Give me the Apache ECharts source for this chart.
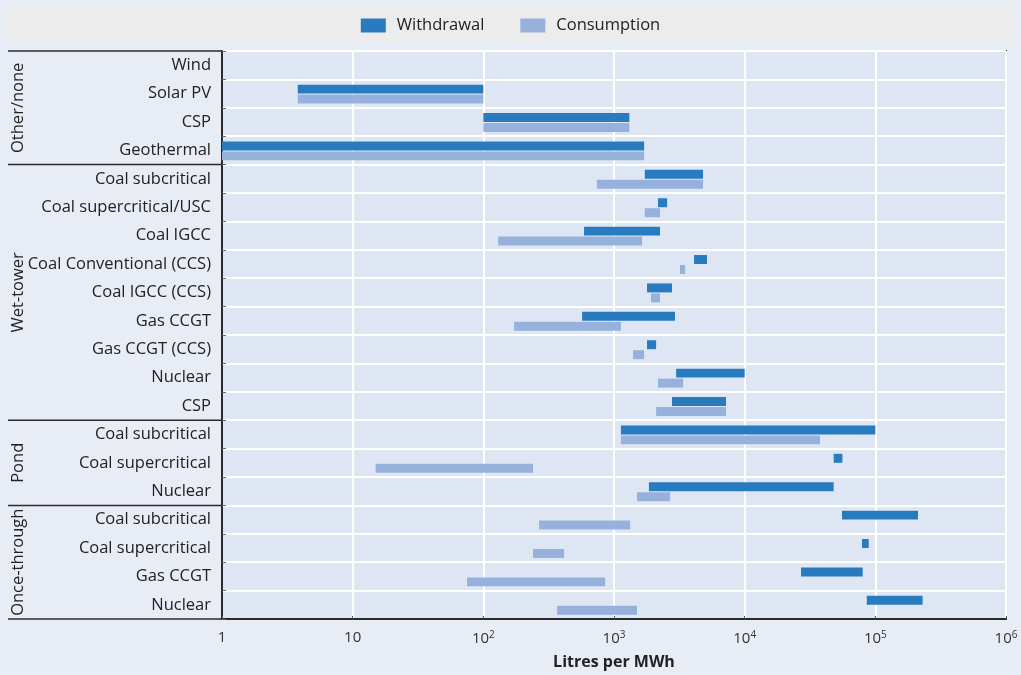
<!DOCTYPE html>
<html>
<head>
<meta charset="utf-8">
<script src="https://cdn.jsdelivr.net/npm/echarts@6/dist/echarts.min.js"></script>
<style>
  html, body { margin: 0; padding: 0; background: #e8ecf5; }
  #chart { width: 1021px; height: 675px; }
</style>
</head>
<body>
<div id="chart"></div>
<script>
// Technologies, top to bottom
const categories = [
  'Wind', 'Solar PV', 'CSP', 'Geothermal',
  'Coal subcritical', 'Coal supercritical/USC', 'Coal IGCC', 'Coal Conventional (CCS)',
  'Coal IGCC (CCS)', 'Gas CCGT', 'Gas CCGT (CCS)', 'Nuclear', 'CSP',
  'Coal subcritical', 'Coal supercritical', 'Nuclear',
  'Coal subcritical', 'Coal supercritical', 'Gas CCGT', 'Nuclear'
];

// Cooling-system groups: first and last row index of each
const groupNames = ['Other/none', 'Wet-tower', 'Pond', 'Once-through'];
const groupFirst = [0, 4, 13, 16];
const groupLast  = [3, 12, 15, 19];

// Water withdrawal range per technology, litres per MWh [low, high]
const withdrawal = [
  null, [3.8, 100], [100, 1310], [1, 1700],
  [1720, 4800], [2170, 2550], [590, 2250], [4100, 5150],
  [1790, 2780], [570, 2930], [1790, 2100], [2990, 10000], [2780, 7200],
  [1130, 100000], [48000, 56000], [1850, 48000],
  [55600, 212000], [79000, 89000], [27000, 80000], [86000, 230000]
];

// Water consumption range per technology, litres per MWh [low, high]
const consumption = [
  null, [3.8, 100], [100, 1310], [1, 1700],
  [740, 4800], [1720, 2250], [130, 1640], [3200, 3500],
  [1920, 2250], [172, 1130], [1400, 1700], [2170, 3380], [2100, 7200],
  [1130, 37700], [15, 240], [1500, 2690],
  [267, 1330], [240, 415], [75, 855], [367, 1500]
];

const FONT = '"Open Sans", "Noto Sans", sans-serif';
const LABEL_SIZE = 16.5;
const COLOR_W = '#287bbf';
const COLOR_C = '#96b2dc';

const chart = echarts.init(document.getElementById('chart'));

// Floating horizontal bar drawn between low and high on the log axis
function rangeSeries(name, ranges, color, offset) {
  const data = [];
  ranges.forEach((r, i) => { if (r) data.push([r[0], r[1], i]); });
  return {
    type: 'custom',
    name: name,
    itemStyle: { color: color },
    encode: { x: [0, 1], y: 2 },
    data: data,
    renderItem: function (params, api) {
      const row = api.value(2);
      const p0 = api.coord([api.value(0), row]);
      const p1 = api.coord([api.value(1), row]);
      const band = params.coordSys.height / categories.length;
      const h = band * 0.316;
      return {
        type: 'rect',
        shape: { x: p0[0], y: p0[1] + band * offset, width: p1[0] - p0[0], height: h },
        style: { fill: color }
      };
    }
  };
}

function xLabel(v) {
  const e = Math.round(Math.log10(v));
  if (e === 0) return '1';
  if (e === 1) return '10';
  return '10{sup|' + e + '}';
}

chart.setOption({
  backgroundColor: '#e8ecf5',
  textStyle: { fontFamily: FONT },
  legend: {
    top: 12,
    left: 'center',
    itemWidth: 25,
    itemHeight: 14,
    itemGap: 36,
    icon: 'rect',
    textStyle: { fontSize: LABEL_SIZE, color: '#222', fontFamily: FONT, padding: [0, 0, 0, 6] },
    data: ['Withdrawal', 'Consumption']
  },
  grid: {
    left: 222, right: 15, top: 51, bottom: 52,
    show: true,
    backgroundColor: '#dfe6f3',
    borderColor: '#2a2a2a',
    borderWidth: 2
  },
  xAxis: {
    type: 'log',
    logBase: 10,
    min: 1,
    max: 1000000,
    name: 'Litres per MWh',
    nameLocation: 'middle',
    nameGap: 35,
    nameTextStyle: { fontSize: 16, fontWeight: 'bold', color: '#222', fontFamily: FONT },
    axisLine: { show: true, lineStyle: { color: '#2a2a2a', width: 2 } },
    axisTick: { show: true, inside: true, length: 3, lineStyle: { color: '#555' } },
    splitLine: { show: true, lineStyle: { color: '#ffffff', width: 2 } },
    axisLabel: {
      fontSize: 15, color: '#333', margin: 11, fontFamily: FONT,
      formatter: xLabel,
      rich: { sup: { fontSize: 10, color: '#333', padding: [0, 0, 7, 0], fontFamily: FONT } }
    }
  },
  yAxis: {
    type: 'category',
    inverse: true,
    data: categories,
    axisLine: { show: true, lineStyle: { color: '#2a2a2a', width: 2 } },
    axisTick: { show: true, inside: true, length: 4, lineStyle: { color: '#666' } },
    splitLine: { show: true, lineStyle: { color: '#ffffff', width: 2 } },
    axisLabel: { fontSize: LABEL_SIZE, color: '#222', margin: 11, fontFamily: FONT }
  },
  series: [
    rangeSeries('Withdrawal', withdrawal, COLOR_W, -0.316),
    rangeSeries('Consumption', consumption, COLOR_C, 0.035)
  ]
});

// Group labels and separators at the left, placed from the category scale
function drawGroups() {
  const grid = chart.getModel().getComponent('grid').coordinateSystem.getRect();
  const band = grid.height / categories.length;
  const elements = [{
    type: 'rect', z: -1, silent: true,
    shape: { x: 7, y: 8, width: 1007, height: 34 },
    style: { fill: '#ececec' }
  }];
  const edges = [];
  groupNames.forEach((name, g) => {
    const yTop = chart.convertToPixel({ yAxisIndex: 0 }, groupFirst[g]) - band / 2;
    const yBot = chart.convertToPixel({ yAxisIndex: 0 }, groupLast[g]) + band / 2;
    edges.push(yTop);
    if (g === groupNames.length - 1) edges.push(yBot);
    elements.push({
      type: 'text', silent: true,
      x: 18, y: (yTop + yBot) / 2, rotation: Math.PI / 2,
      style: {
        text: name, fontSize: LABEL_SIZE, fill: '#222', fontFamily: FONT,
        align: 'center', verticalAlign: 'middle'
      }
    });
  });
  edges.forEach(y => {
    elements.push({
      type: 'line', silent: true,
      shape: { x1: 8, y1: y, x2: grid.x, y2: y },
      style: { stroke: '#2a2a2a', lineWidth: 1.5 }
    });
  });
  chart.setOption({ graphic: elements });
}
drawGroups();
</script>
</body>
</html>
